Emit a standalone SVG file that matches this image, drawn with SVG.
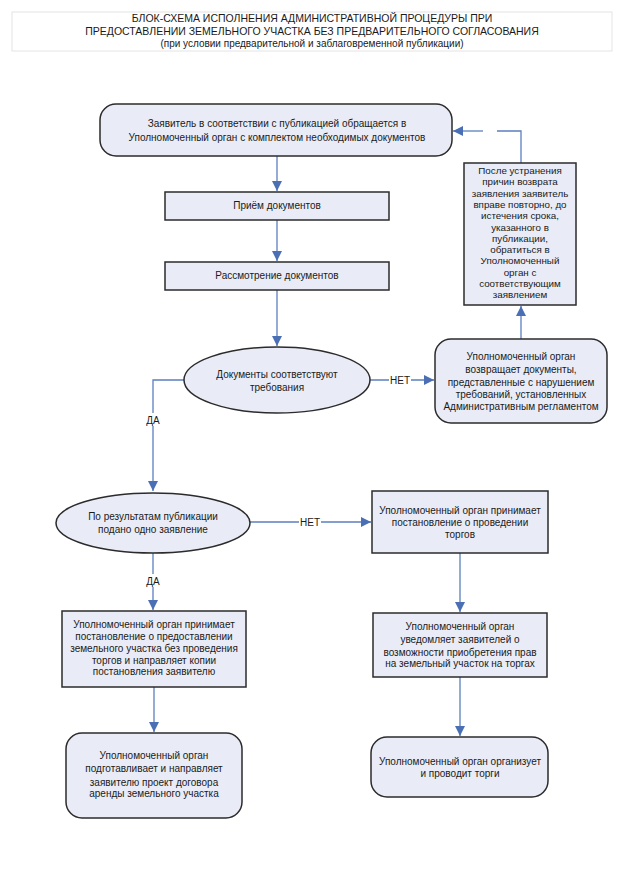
<svg xmlns="http://www.w3.org/2000/svg" width="640" height="890" viewBox="0 0 640 890">
<defs>
<marker id="ah" viewBox="0 0 10 10" refX="10" refY="5" markerWidth="10" markerHeight="10" markerUnits="userSpaceOnUse" orient="auto">
<path d="M0,0 L10,5 L0,10 z" fill="#4a6fb5"/>
</marker>
<style>
.n{fill:#e9ecf6;stroke:#2b2b2b;stroke-width:1.5}
.t{font-family:"Liberation Sans",Arial,sans-serif;font-size:10px;fill:#1a1a1a;text-anchor:middle}
.s{font-family:"Liberation Sans",Arial,sans-serif;font-size:9.8px;fill:#1a1a1a;text-anchor:middle}
.h{font-family:"Liberation Sans",Arial,sans-serif;font-size:10.5px;fill:#1a1a1a;text-anchor:middle}
.c{fill:none;stroke:#5b7fbf;stroke-width:1.3}
.lb{font-family:"Liberation Sans",Arial,sans-serif;font-size:10px;fill:#1a1a1a;text-anchor:middle}
</style>
</defs>
<rect width="640" height="890" fill="#fff"/>
<g id="title">
<rect x="12" y="12" width="600" height="39" fill="none" stroke="#e4e4e4" stroke-width="1"/>
<text class="h" x="312" y="22">БЛОК-СХЕМА ИСПОЛНЕНИЯ  АДМИНИСТРАТИВНОЙ ПРОЦЕДУРЫ ПРИ</text>
<text class="h" x="312" y="35">ПРЕДОСТАВЛЕНИИ ЗЕМЕЛЬНОГО УЧАСТКА БЕЗ ПРЕДВАРИТЕЛЬНОГО СОГЛАСОВАНИЯ</text>
<text class="t" x="312" y="47">(при условии предварительной и заблаговременной публикации)</text>
</g>
<g id="connectors">
<path class="c" d="M277,156 V191" marker-end="url(#ah)"/>
<path class="c" d="M277,220 V261" marker-end="url(#ah)"/>
<path class="c" d="M277,290 V346" marker-end="url(#ah)"/>
<path class="c" d="M370,380 H434" marker-end="url(#ah)"/>
<rect x="389" y="373" width="22" height="13" fill="#fff"/>
<text class="lb" x="400" y="384">НЕТ</text>
<path class="c" d="M521,339 V306" marker-end="url(#ah)"/>
<path class="c" d="M521,163 V131 H497"/>
<path class="c" d="M483,131 H453" marker-end="url(#ah)"/>
<path class="c" d="M184,380 H153 V491" marker-end="url(#ah)"/>
<rect x="143" y="413" width="20" height="13" fill="#fff"/>
<text class="lb" x="153" y="424">ДА</text>
<path class="c" d="M250,522 H371" marker-end="url(#ah)"/>
<rect x="299" y="515" width="22" height="13" fill="#fff"/>
<text class="lb" x="310" y="526">НЕТ</text>
<path class="c" d="M153,553 V610" marker-end="url(#ah)"/>
<rect x="143" y="574" width="20" height="13" fill="#fff"/>
<text class="lb" x="153" y="585">ДА</text>
<path class="c" d="M154,687 V732" marker-end="url(#ah)"/>
<path class="c" d="M460,553 V612" marker-end="url(#ah)"/>
<path class="c" d="M460,677 V736" marker-end="url(#ah)"/>
</g>
<g id="n1">
<rect class="n" x="100" y="104" width="352" height="52" rx="16"/>
<text class="t" x="277" y="127">Заявитель в соответствии с публикацией обращается в</text>
<text class="t" x="277" y="141">Уполномоченный орган с комплектом необходимых документов</text>
</g>
<g id="n2">
<rect class="n" x="165" y="192" width="224" height="28"/>
<text class="t" x="277" y="209">Приём  документов</text>
</g>
<g id="n3">
<rect class="n" x="165" y="262" width="224" height="28"/>
<text class="t" x="277" y="279">Рассмотрение  документов</text>
</g>
<g id="d1">
<ellipse class="n" cx="277" cy="380" rx="93" ry="33"/>
<text class="t" x="277" y="378">Документы соответствуют</text>
<text class="t" x="277" y="391">требования</text>
</g>
<g id="n4">
<rect class="n" x="435" y="339" width="172" height="84" rx="16"/>
<text class="t" x="521" y="360">Уполномоченный орган</text>
<text class="t" x="521" y="373">возвращает документы,</text>
<text class="t" x="521" y="386">представленные с нарушением</text>
<text class="t" x="521" y="398">требований, установленных</text>
<text class="t" x="521" y="410">Административным регламентом</text>
</g>
<g id="n5">
<rect class="n" x="464" y="163" width="112" height="142"/>
<text class="s" x="520" y="174">После устранения</text>
<text class="s" x="520" y="185.3">причин возврата</text>
<text class="s" x="520" y="196.6">заявления  заявитель</text>
<text class="s" x="520" y="207.9">вправе повторно, до</text>
<text class="s" x="520" y="219.2">истечения срока,</text>
<text class="s" x="520" y="230.5">указанного в</text>
<text class="s" x="520" y="241.8">публикации,</text>
<text class="s" x="520" y="253.1">обратиться в</text>
<text class="s" x="520" y="264.4">Уполномоченный</text>
<text class="s" x="520" y="275.7">орган с</text>
<text class="s" x="520" y="287">соответствующим</text>
<text class="s" x="520" y="298.3">заявлением</text>
</g>
<g id="d2">
<ellipse class="n" cx="153" cy="523" rx="97" ry="30"/>
<text class="t" x="153" y="520">По результатам публикации</text>
<text class="t" x="153" y="533">подано одно заявление</text>
</g>
<g id="n6">
<rect class="n" x="372" y="491" width="176" height="62"/>
<text class="t" x="460" y="514">Уполномоченный орган принимает</text>
<text class="t" x="460" y="526">постановление о проведении</text>
<text class="t" x="460" y="538">торгов</text>
</g>
<g id="n7">
<rect class="n" x="62" y="611" width="184" height="76"/>
<text class="t" x="154" y="628">Уполномоченный орган принимает</text>
<text class="t" x="154" y="640">постановление о предоставлении</text>
<text class="t" x="154" y="652">земельного участка без проведения</text>
<text class="t" x="154" y="664">торгов и направляет копии</text>
<text class="t" x="154" y="675">постановления заявителю</text>
</g>
<g id="n8">
<rect class="n" x="373" y="613" width="174" height="64"/>
<text class="t" x="460" y="630">Уполномоченный орган</text>
<text class="t" x="460" y="643">уведомляет заявителей  о</text>
<text class="t" x="460" y="656">возможности приобретения прав</text>
<text class="t" x="460" y="667">на земельный участок на торгах</text>
</g>
<g id="n9">
<rect class="n" x="66" y="733" width="176" height="85" rx="16"/>
<text class="t" x="154" y="759">Уполномоченный орган</text>
<text class="t" x="154" y="772">подготавливает и направляет</text>
<text class="t" x="154" y="786">заявителю проект договора</text>
<text class="t" x="154" y="797">аренды земельного участка</text>
</g>
<g id="n10">
<rect class="n" x="371" y="737" width="177" height="60" rx="16"/>
<text class="t" x="460" y="765">Уполномоченный орган  организует</text>
<text class="t" x="460" y="777">и проводит торги</text>
</g>
</svg>
